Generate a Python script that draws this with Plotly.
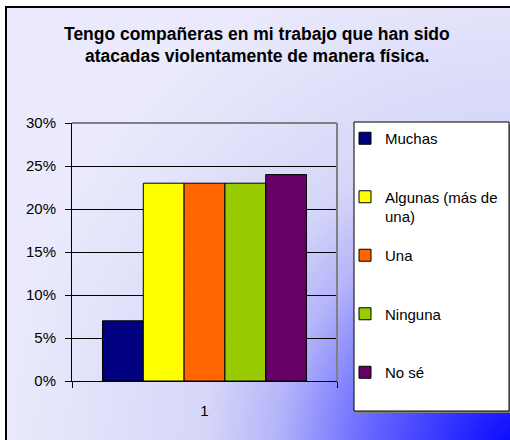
import base64
import plotly.graph_objects as go

# --- Data ---
categories = ["1"]
series_names = ["Muchas", "Algunas (más de<br>una)", "Una", "Ninguna", "No sé"]
series_values = [0.07, 0.23, 0.23, 0.23, 0.24]
series_colors = ["#000080", "#ffff00", "#ff6600", "#99cc00", "#660066"]
title_lines = ["Tengo compañeras en mi trabajo que han sido",
               "atacadas violentamente de manera física."]

# --- Geometry (pixels) ---
W, H = 510, 440
L, R, T, B = 72, 337, 123, 381
pw, ph = R - L, B - T


def px(x):
    return (x - L) / pw


def py(y):
    return (B - y) / ph


# --- Background gradient (Excel style, dark blue toward bottom-right corner) ---
gw, gh = 520, 450
svg = f"""<svg xmlns='http://www.w3.org/2000/svg' width='{gw}' height='{gh}' viewBox='0 0 {gw} {gh}' preserveAspectRatio='none'>
<defs><radialGradient id='g' gradientUnits='userSpaceOnUse' cx='{gw}' cy='{gh}' r='520'>
<stop offset='0' stop-color='#0000ff'/>
<stop offset='0.08' stop-color='#1818ff'/>
<stop offset='0.32' stop-color='#6c6cff'/>
<stop offset='0.48' stop-color='#b4b4fa'/>
<stop offset='0.62' stop-color='#d6d6f8'/>
<stop offset='1' stop-color='#eaeafc'/>
</radialGradient></defs>
<rect width='{gw}' height='{gh}' fill='url(#g)'/></svg>"""
bg_uri = "data:image/svg+xml;base64," + base64.b64encode(svg.encode()).decode()

fig = go.Figure()
for name, val, col in zip(series_names, series_values, series_colors):
    fig.add_trace(go.Bar(
        x=categories, y=[val], name=name, legendgroup=name,
        marker=dict(color=col, line=dict(color="black", width=1)),
    ))

font = "Liberation Sans, Arial, sans-serif"
fig.update_layout(
    width=W, height=H,
    margin=dict(l=L, r=W - R, t=T, b=H - B, autoexpand=False),
    paper_bgcolor="white",
    plot_bgcolor="#c0c0c0",
    font=dict(family=font, size=15, color="black"),
    barmode="group",
    bargap=0.23,
    bargroupgap=0,
    showlegend=True,
    legend=dict(
        xref="container", yref="container",
        x=345 / W, y=1 - 122 / H, xanchor="left", yanchor="top",
        bgcolor="rgba(0,0,0,0)", borderwidth=0,
        font=dict(family=font, size=15),
        tracegroupgap=16.5, valign="top", maxheight=400,
    ),
    xaxis=dict(
        type="category", showline=True, linecolor="black", linewidth=1,
        ticks="outside", tickson="boundaries", ticklen=6, tickcolor="black",
        ticklabelstandoff=16, showgrid=False,
    ),
    yaxis=dict(
        range=[0, 0.30], dtick=0.05, tickformat=".0%",
        showline=True, linecolor="black", linewidth=1,
        ticks="outside", ticklen=6, tickcolor="black", ticklabelstandoff=6,
        showgrid=True, gridcolor="black", gridwidth=1, zeroline=False,
    ),
    images=[dict(
        source=bg_uri, xref="paper", yref="paper",
        x=px(6), y=py(7), sizex=(gw) / pw, sizey=(gh) / ph,
        xanchor="left", yanchor="top", sizing="stretch", layer="below",
    )],
    shapes=[
        # outer chart frame
        dict(type="rect", xref="paper", yref="paper",
             x0=px(6), x1=px(W + 10), y0=py(H + 10), y1=py(7),
             line=dict(color="black", width=2), layer="below"),
        # plot area grey top/right edge
        dict(type="line", xref="paper", yref="paper", x0=0, x1=1, y0=1, y1=1,
             line=dict(color="#808080", width=2)),
        dict(type="line", xref="paper", yref="paper", x0=1, x1=1, y0=0, y1=1,
             line=dict(color="#808080", width=2)),
        # legend box with shadow
        dict(type="rect", xref="paper", yref="paper",
             x0=px(356), x1=px(511), y0=py(413), y1=py(124),
             fillcolor="#808080", line=dict(width=0), layer="below"),
        dict(type="rect", xref="paper", yref="paper",
             x0=px(354), x1=px(509), y0=py(411), y1=py(122),
             fillcolor="white", line=dict(color="black", width=1), layer="below"),
    ],
    annotations=[
        dict(text="<b>%s</b>" % title_lines[0], xref="paper", yref="paper",
             x=px(257), y=py(34), xanchor="center", yanchor="middle",
             showarrow=False, font=dict(family=font, size=17.5)),
        dict(text="<b>%s</b>" % title_lines[1], xref="paper", yref="paper",
             x=px(257), y=py(56), xanchor="center", yanchor="middle",
             showarrow=False, font=dict(family=font, size=17.5)),
    ],
)

# one-line labels get a blank second line so every legend entry has the same height
for tr in fig.data:
    if "<br>" not in tr.name:
        tr.name = tr.name + "<br>\u00a0"

# the page body has a default 8px margin; drop it so the chart fills the window
fig.write_html("out.html", config={"displayModeBar": False},
               post_script="document.body.style.margin='0px';")
